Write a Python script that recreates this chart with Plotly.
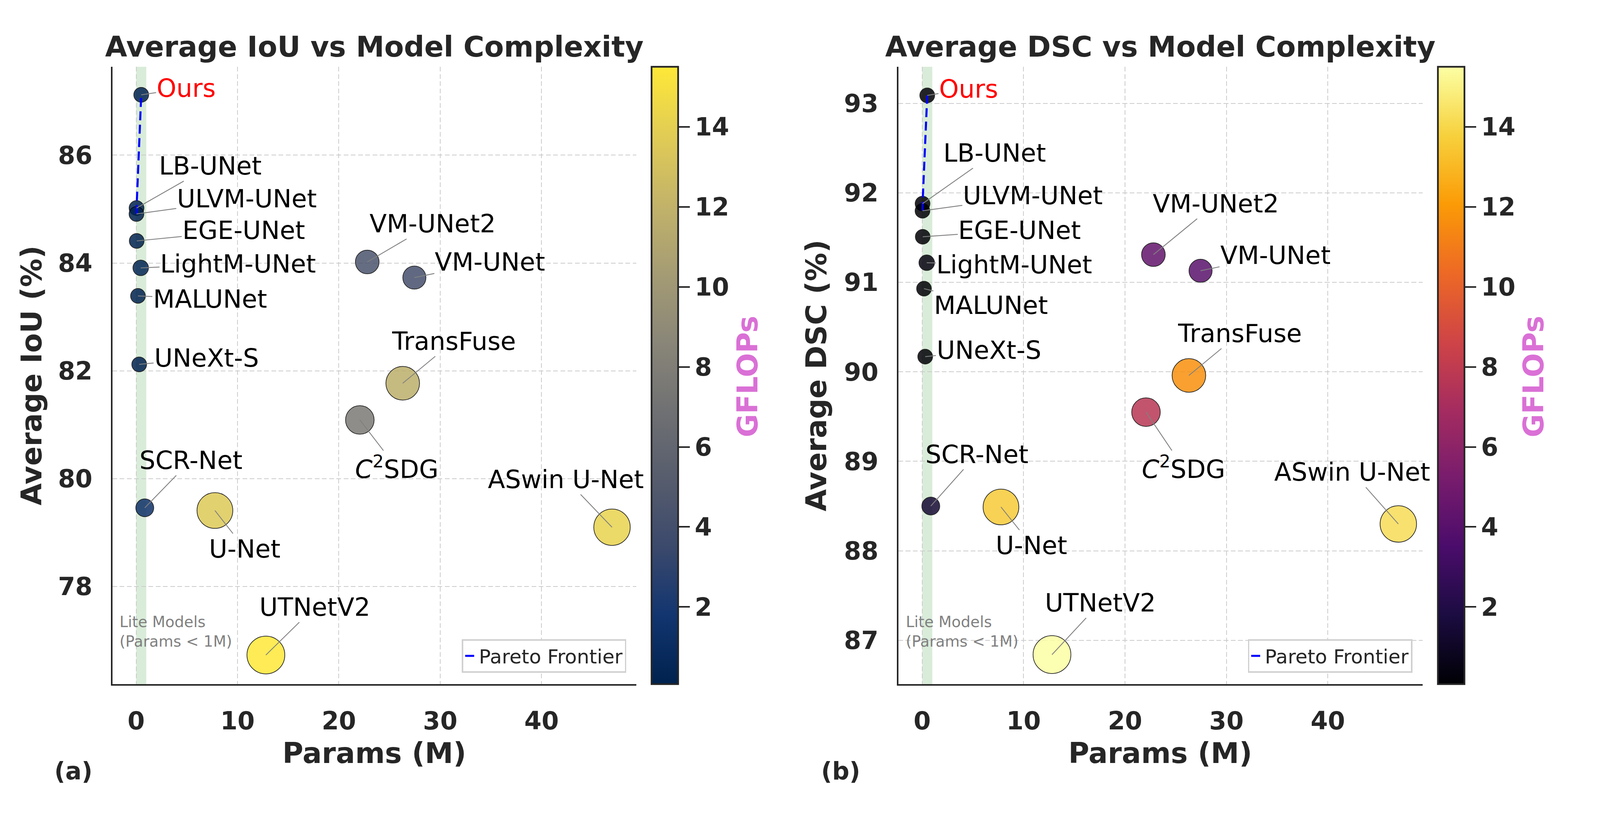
import numpy as np
import plotly.graph_objects as go

# model data
models = ["Ours", "LB-UNet", "ULVM-UNet", "EGE-UNet", "LightM-UNet", "MALUNet",
          "UNeXt-S", "SCR-Net", "U-Net", "UTNetV2", "<i>C</i><sup>2</sup>SDG",
          "TransFuse", "VM-UNet2", "VM-UNet", "ASwin U-Net"]
params = [0.5, 0.038, 0.03, 0.053, 0.45, 0.18, 0.3, 0.85, 7.77, 12.8, 22.07,
          26.3, 22.8, 27.45, 46.95]
iou = [87.12, 85.02, 84.91, 84.41, 83.91, 83.39, 82.12, 79.46, 79.41, 76.73,
       81.09, 81.77, 84.02, 83.73, 79.10]
dsc = [93.09, 91.88, 91.80, 91.51, 91.22, 90.93, 90.17, 88.50, 88.49, 86.84,
       89.55, 89.96, 91.31, 91.13, 88.30]
gflops = [0.12, 0.1, 0.08, 0.072, 0.39, 0.083, 0.1, 1.4, 13.6, 15.5, 7.7,
          11.7, 4.45, 4.1, 14.2]

# label offsets (reference pixels) for each panel
off_a = [(135, -17), (222, -108), (331, -39), (321, -27), (292, -11), (216, 8),
         (202, -17), (139, -122), (90, 98), (147, -123), (110, 122),
         (153, -108), (196, -98), (227, -40), (-138, -123)]
off_b = [(124, -17), (216, -130), (331, -39), (291, -17), (263, 5), (201, 42),
         (191, -17), (139, -133), (92, 98), (145, -133), (112, 142),
         (153, -108), (187, -131), (224, -40), (-138, -133)]

# the photo only keeps the left 4096 px of the page, and the page body has
# an 8 px margin; layout is given in reference pixels (4800x2100) and mapped
SX, SY = 4096 / 4800, 1.0
FS = 0.88
PAD = 8
W, H = 4096 - PAD, 2100 - PAD
FONT = "DejaVu Sans"
DARK = "#262626"


def X(v):
    return (v * SX - PAD) / W


def Y(v):
    return 1 - (v * SY - PAD) / H


def f(v):
    return v * FS


def pareto(xs, ys):
    order = np.argsort(xs)
    fx, fy, best = [], [], -np.inf
    for i in order:
        if ys[i] > best:
            best = ys[i]
            fx.append(xs[i])
            fy.append(ys[i])
    return fx, fy


sizes = f(np.sqrt(1780 + 666 * np.array(gflops)))
dash_pf = f"{f(26):.1f}px,{f(13):.1f}px"

fig = go.Figure()

panels = [
    ("x", "y", "coloraxis", iou, off_a, "legend"),
    ("x2", "y2", "coloraxis2", dsc, off_b, "legend2"),
]

annotations = []
shapes = []
for xa, ya, cax, score, offs, leg in panels:
    fig.add_trace(go.Scatter(
        x=params, y=score, mode="markers", xaxis=xa, yaxis=ya,
        showlegend=False,
        marker=dict(size=sizes, color=gflops, coloraxis=cax, opacity=0.85,
                    line=dict(color="black", width=f(2))),
    ))
    fx, fy = pareto(params, score)
    fig.add_trace(go.Scatter(
        x=fx, y=fy, mode="lines", xaxis=xa, yaxis=ya, name="Pareto Frontier",
        legend=leg, line=dict(color="blue", width=f(6), dash=dash_pf),
    ))
    shapes.append(dict(type="rect", xref=xa, yref=ya + " domain", x0=0, x1=1,
                       y0=0, y1=1, fillcolor="rgba(0,128,0,0.15)",
                       line=dict(width=0), layer="below"))
    for name, p, sc, (dx, dy) in zip(models, params, score, offs):
        annotations.append(dict(
            x=p, y=sc, xref=xa, yref=ya, text=name, showarrow=True,
            ax=dx * SX, ay=dy * SY, arrowhead=0, arrowwidth=f(2.5),
            arrowcolor="gray", standoff=0,
            font=dict(family=FONT, size=f(73),
                      color="red" if name == "Ours" else "black"),
        ))
    annotations.append(dict(
        x=-1.7, y=0.085, xref=xa, yref=ya + " domain",
        text="Lite Models<br>(Params &lt; 1M)", showarrow=False,
        xanchor="left", align="left", yanchor="middle",
        font=dict(family=FONT, size=f(44), color="gray"),
    ))
    # x axis title
    annotations.append(dict(
        x=0.5, y=Y(1928), xref=xa + " domain", yref="paper", text="Params (M)",
        showarrow=False, yanchor="middle",
        font=dict(family=FONT, size=f(83), color=DARK, weight="bold"),
    ))

titles = ["Average IoU vs Model Complexity", "Average DSC vs Model Complexity"]
for xa, t in zip(["x", "x2"], titles):
    annotations.append(dict(
        x=0.5, y=Y(120), xref=xa + " domain", yref="paper", text=t,
        showarrow=False, yanchor="middle",
        font=dict(family=FONT, size=f(83), color=DARK, weight="bold"),
    ))
for xr, t in [(161, "(a)"), (2522, "(b)")]:
    annotations.append(dict(
        x=X(xr), y=Y(1975), xref="paper", yref="paper", text=t,
        showarrow=False, yanchor="middle",
        font=dict(family=FONT, size=f(70), color=DARK, weight="bold"),
    ))
for xr in [2243, 4601]:
    annotations.append(dict(
        x=X(xr), y=Y(964), xref="paper", yref="paper", text="GFLOPs",
        showarrow=False, textangle=-90, xanchor="center", yanchor="middle",
        font=dict(family=FONT, size=f(83), color="orchid", weight="bold"),
    ))

tickfont = dict(family=FONT, size=f(72), color=DARK, weight="bold")
titlefont = dict(family=FONT, size=f(83), color=DARK, weight="bold")
grid = dict(showgrid=True, gridcolor="#cccccc", gridwidth=f(2.5),
            griddash=f"{f(14):.1f}px,{f(7):.1f}px",
            zeroline=False, showline=True, linecolor=DARK, linewidth=f(5),
            ticks="outside", tickcolor="rgba(0,0,0,0)", tickfont=tickfont)

xcommon = dict(grid, range=[-2.35, 49.35], tickvals=[0, 10, 20, 30, 40],
               ticklen=36 * SY)
ydom = [Y(1752), Y(171)]


def cbar(xr):
    return dict(
        x=X(xr), xanchor="left", xpad=0, y=ydom[0], yanchor="bottom",
        ypad=0, len=ydom[1] - ydom[0], lenmode="fraction", thickness=80 * SX,
        outlinecolor=DARK, outlinewidth=f(5), ticks="outside", ticklen=33 * SX,
        tickwidth=f(5), tickcolor=DARK, tickvals=[2, 4, 6, 8, 10, 12, 14],
        tickfont=tickfont,
    )


legend_style = dict(xanchor="right", y=Y(1723), yanchor="bottom",
                    bordercolor="#d0d0d0", borderwidth=f(4), bgcolor="white",
                    font=dict(family=FONT, size=f(57), color=DARK))

fig.update_layout(
    width=W, height=H, margin=dict(l=0, r=0, t=0, b=0, autoexpand=False),
    paper_bgcolor="white", plot_bgcolor="white",
    font=dict(family=FONT, color=DARK),
    xaxis=dict(xcommon, domain=[X(337), X(1909)], anchor="y"),
    yaxis=dict(grid, range=[76.19, 87.64], tickvals=[78, 80, 82, 84, 86],
               ticklen=40 * SX, domain=ydom, anchor="x",
               title=dict(text="Average IoU (%)", font=titlefont, standoff=22 * SX)),
    xaxis2=dict(xcommon, domain=[X(2695), X(4268)], anchor="y2"),
    yaxis2=dict(grid, range=[86.51, 93.41], tickvals=[87, 88, 89, 90, 91, 92, 93],
                ticklen=40 * SX, domain=ydom, anchor="x2",
                title=dict(text="Average DSC (%)", font=titlefont, standoff=26 * SX)),
    coloraxis=dict(colorscale="Cividis", cmin=min(gflops), cmax=max(gflops),
                   colorbar=cbar(1955)),
    coloraxis2=dict(colorscale="Inferno", cmin=min(gflops), cmax=max(gflops),
                    colorbar=cbar(4314)),
    legend=dict(legend_style, x=X(1879)),
    legend2=dict(legend_style, x=X(4237)),
    annotations=annotations,
    shapes=shapes,
)

fig.write_html("out.html")
